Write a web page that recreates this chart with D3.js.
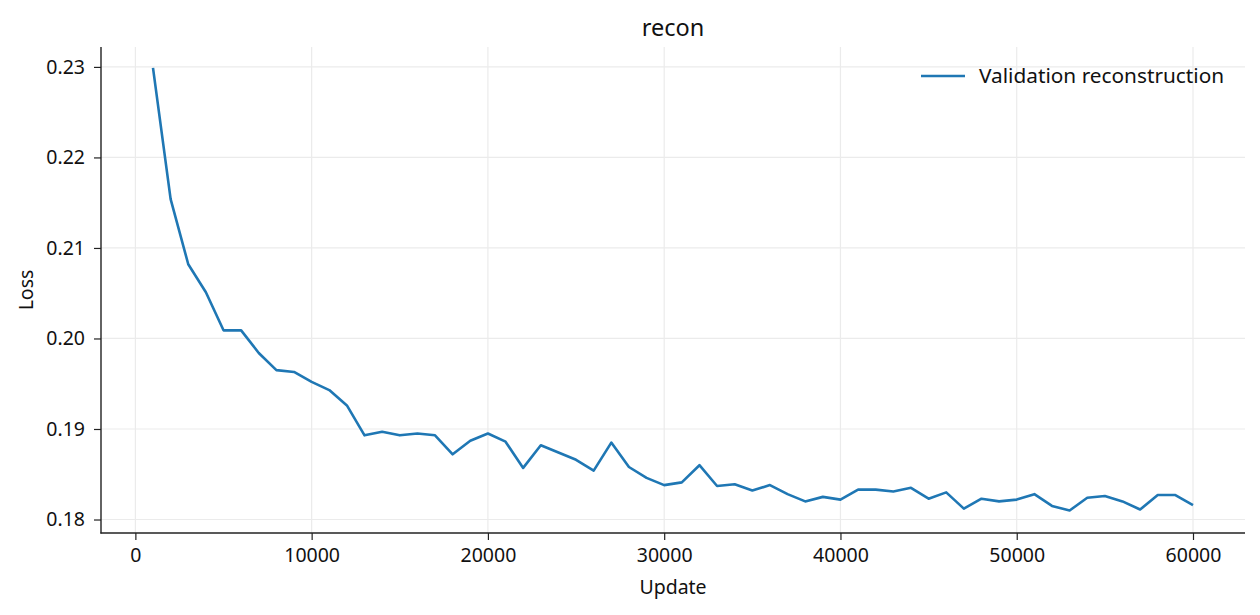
<!DOCTYPE html>
<html><head><meta charset="utf-8">
<script src="https://cdn.jsdelivr.net/npm/d3@7/dist/d3.min.js"></script>
<style>
body{margin:0;background:#fff;}
text{font-family:"Noto Sans","Open Sans",sans-serif;fill:#111;}
</style></head>
<body><svg id="c" width="1260" height="615"></svg>
<script>
const updates = d3.range(1000, 60001, 1000);
const reconLoss = [
0.2299,0.2154,0.2082,0.2051,0.2009,0.2009,0.1984,0.1965,0.1963,0.1952,
0.1943,0.1926,0.1893,0.1897,0.1893,0.1895,0.1893,0.1872,0.1887,0.1895,
0.1886,0.1857,0.1882,0.1874,0.1866,0.1854,0.1885,0.1858,0.1846,0.1838,
0.1841,0.1860,0.1837,0.1839,0.1832,0.1838,0.1828,0.1820,0.1825,0.1822,
0.1833,0.1833,0.1831,0.1835,0.1823,0.1830,0.1812,0.1823,0.1820,0.1822,
0.1828,0.1815,0.1810,0.1824,0.1826,0.1820,0.1811,0.1827,0.1827,0.1816];
const xTicks = [0,10000,20000,30000,40000,50000,60000];
const yTicks = [0.18,0.19,0.20,0.21,0.22,0.23];
const titleText = "recon", xLabel = "Update", yLabel = "Loss", seriesName = "Validation reconstruction";

const L=101,R=1245,T=47,B=533;
const svg=d3.select("#c");
const x=d3.scaleLinear().domain([-1950,62950]).range([L,R]);
const y=d3.scaleLinear().domain([0.17851,0.2322]).range([B,T]);

// grid
svg.append("g").selectAll("line").data(xTicks).join("line")
 .attr("x1",d=>x(d)).attr("x2",d=>x(d)).attr("y1",T).attr("y2",B)
 .attr("stroke","#ebebeb").attr("stroke-width",1.2);
svg.append("g").selectAll("line").data(yTicks).join("line")
 .attr("x1",L).attr("x2",R).attr("y1",d=>y(d)).attr("y2",d=>y(d))
 .attr("stroke","#ebebeb").attr("stroke-width",1.2);

// axes
const xa=svg.append("g").attr("transform",`translate(0,${B})`)
 .call(d3.axisBottom(x).tickValues(xTicks).tickFormat(d3.format("d")).tickSize(7).tickPadding(8));
const ya=svg.append("g").attr("transform",`translate(${L},0)`)
 .call(d3.axisLeft(y).tickValues(yTicks).tickFormat(d3.format(".2f")).tickSize(7).tickPadding(9));
[xa,ya].forEach(a=>{
 a.select(".domain").remove();
 a.selectAll(".tick line").attr("stroke","#222").attr("stroke-width",1.2);
 a.selectAll(".tick text").attr("font-size",19.5).style("font-family",'"Noto Sans",sans-serif').attr("fill","#111");
});
svg.append("line").attr("x1",L).attr("x2",L).attr("y1",T).attr("y2",B+0.6).attr("stroke","#222").attr("stroke-width",1.4);
svg.append("line").attr("x1",L-0.6).attr("x2",R).attr("y1",B).attr("y2",B).attr("stroke","#222").attr("stroke-width",1.4);

// line
svg.append("path").datum(updates.map((u,i)=>[u,reconLoss[i]]))
 .attr("fill","none").attr("stroke","#1f77b4").attr("stroke-width",2.6)
 .attr("stroke-linejoin","round")
 .attr("d",d3.line().x(d=>x(d[0])).y(d=>y(d[1])));

// labels
svg.append("text").attr("x",(L+R)/2).attr("y",36).attr("text-anchor","middle").attr("font-size",23.5).text(titleText);
svg.append("text").attr("x",(L+R)/2).attr("y",594).attr("text-anchor","middle").attr("font-size",19.5).text(xLabel);
svg.append("text").attr("transform",`translate(33,${(T+B)/2}) rotate(-90)`).attr("text-anchor","middle").attr("font-size",19.5).text(yLabel);

// legend
svg.append("line").attr("x1",921).attr("x2",965).attr("y1",76).attr("y2",76).attr("stroke","#1f77b4").attr("stroke-width",2.6);
svg.append("text").attr("x",979).attr("y",83).attr("font-size",20.8).text(seriesName);
</script></body></html>
